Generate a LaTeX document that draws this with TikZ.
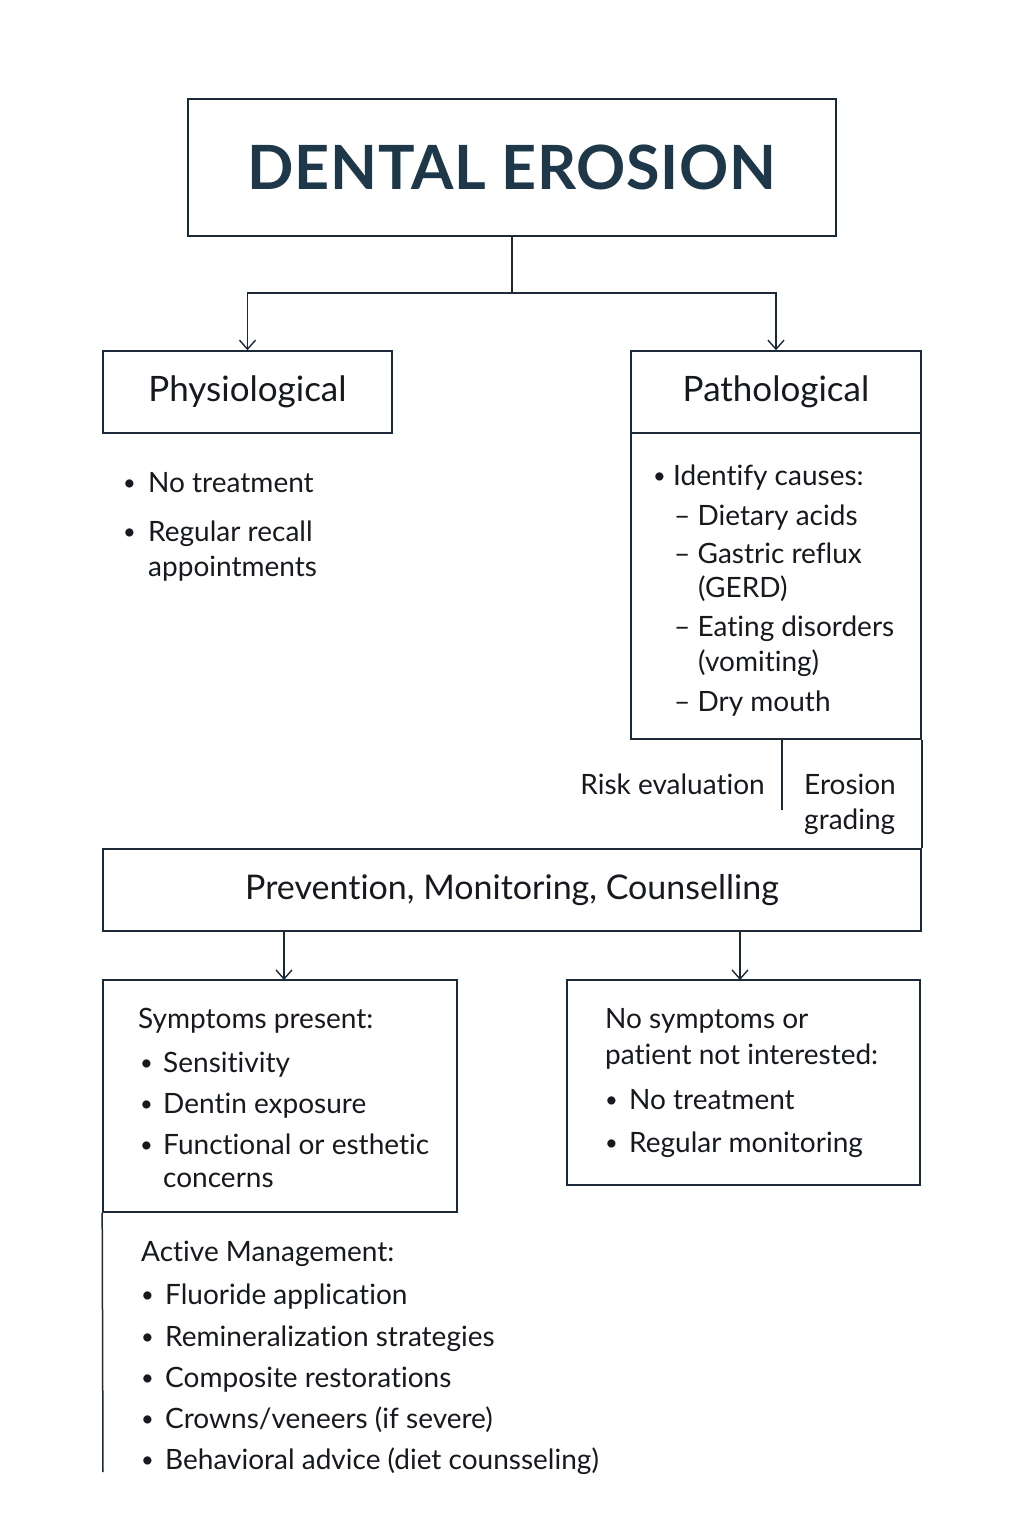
\documentclass[tikz,border=0pt]{standalone}
\usepackage{fontspec}
\setmainfont{Lato}[Ligatures=NoCommon]
\newfontfamily\titlefont[LetterSpace=1.2,Ligatures=NoCommon]{Lato}
\usetikzlibrary{arrows.meta}
\definecolor{ink}{HTML}{1B2A36}
\definecolor{titleink}{HTML}{1E3749}
\definecolor{txt}{HTML}{161A1E}
\begin{document}
\begin{tikzpicture}[x=1pt,y=-1pt,
  box/.style={draw=ink,line width=1.6pt,inner sep=0pt,text=txt},
  conn/.style={draw=ink,line width=1.5pt},
  arr/.style={conn,-{Straight Barb[length=9pt,width=16pt,line width=1.4pt]}},
  body/.style={anchor=base west,inner sep=0pt,text=txt,font=\fontsize{28}{32}\selectfont},
  head/.style={font=\fontsize{35}{40}\selectfont},
  bul/.style={anchor=base west,inner sep=0pt,text=txt,yshift=2pt,font=\fontsize{22}{26}\selectfont}
]
\useasboundingbox[fill=white] (0,0) rectangle (1024,1536);

% title
\node[box,minimum width=648pt,minimum height=137pt,text=titleink,
  font=\titlefont\bfseries\fontsize{61}{66}\selectfont] (title) at (512,167.5) {DENTAL EROSION};

% level 1
\node[box,minimum width=289pt,minimum height=82pt,head] (phys) at (247.5,392) {Physiological};
\node[box,minimum width=290pt,minimum height=82pt,head] (patho) at (776,392) {Pathological};
\node[box,minimum width=290pt,minimum height=306pt] (pathobody) at (776,586) {};

\coordinate (split) at (512,293);
\draw[conn] (title.south) -- (split);
\draw[arr] (split) -| (phys.north);
\draw[arr] (split) -| (patho.north);

% physiological items
\node[bul] (pb1) at (123,492) {•};
\node[body] (p1) at (148,492) {No treatment};
\node[bul] (pb2) at (123,541) {•};
\node[body] (p2) at (148,541) {Regular recall};
\node[body] (p3) at (148,576) {appointments};

% pathological items
\node[bul] (qb1) at (653,485) {•};
\node[body] (q1) at (673,485) {Identify causes:};
\node[body] (q2) at (674,525) {– Dietary acids};
\node[body] (q3) at (674,563) {– Gastric reflux};
\node[body] (q4) at (698,597) {(GERD)};
\node[body] (q5) at (674,636) {– Eating disorders};
\node[body] (q6) at (698,671) {(vomiting)};
\node[body] (q7) at (674,711) {– Dry mouth};

% evaluation
\coordinate (evbot) at (782,810);
\draw[conn] (pathobody.south -| evbot) -- (evbot);
\node[body,anchor=base east] (risk) at (765,794) {Risk evaluation};
\node[body] (ero1) at (804,794) {Erosion};
\node[body] (ero2) at (804,829) {grading};

% prevention
\node[box,minimum width=818pt,minimum height=82pt,font=\fontsize{34}{40}\selectfont] (prev) at (512,890) {Prevention, Monitoring, Counselling};
\draw[conn] (pathobody.south east) -- (prev.north east);

% level 3
\node[box,minimum width=354pt,minimum height=232pt] (sym) at (280,1096) {};
\node[box,minimum width=353pt,minimum height=205pt] (nosym) at (743.5,1082.5) {};
\coordinate (a1s) at (284,931);
\coordinate (a1e) at (284,980);
\coordinate (a2s) at (740,931);
\coordinate (a2e) at (740,980);
\draw[arr] (a1s) -- (a1e);
\draw[arr] (a2s) -- (a2e);

\node[body] (s0) at (138,1028) {Symptoms present:};
\node[bul] (sb1) at (140,1072) {•};
\node[body] (s1) at (163,1072) {Sensitivity};
\node[bul] (sb2) at (140,1113) {•};
\node[body] (s2) at (163,1113) {Dentin exposure};
\node[bul] (sb3) at (140,1154) {•};
\node[body] (s3) at (163,1154) {Functional or esthetic};
\node[body] (s4) at (163,1187) {concerns};

\node[body] (n0) at (605,1028) {No symptoms or};
\node[body] (n1) at (605,1064) {patient not interested:};
\node[bul] (nb1) at (605,1109) {•};
\node[body] (n2) at (629,1109) {No treatment};
\node[bul] (nb2) at (605,1152) {•};
\node[body] (n3) at (629,1152) {Regular monitoring};

% active management
\coordinate (leftend) at (103,1472);
\draw[conn] (sym.south west) -- (leftend);
\node[body] (m0) at (141,1261) {Active Management:};
\node[bul] (mb1) at (141,1304) {•};
\node[body] (m1) at (165,1304) {Fluoride application};
\node[bul] (mb2) at (141,1346) {•};
\node[body] (m2) at (165,1346) {Remineralization strategies};
\node[bul] (mb3) at (141,1387) {•};
\node[body] (m3) at (165,1387) {Composite restorations};
\node[bul] (mb4) at (141,1428) {•};
\node[body] (m4) at (165,1428) {Crowns/veneers (if severe)};
\node[bul] (mb5) at (141,1469) {•};
\node[body] (m5) at (165,1469) {Behavioral advice (diet counsseling)};
\end{tikzpicture}
\end{document}
